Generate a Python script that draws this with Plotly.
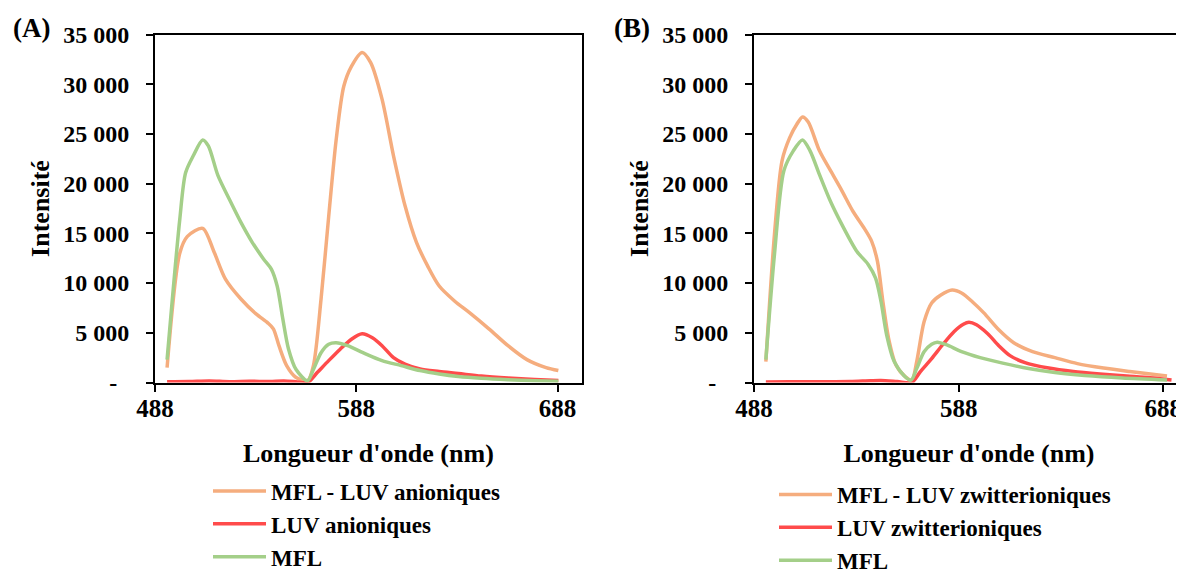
import plotly.graph_objects as go

# ---------------- data ----------------
# Panel A : anionic LUV
wl_a_mfl_luv = [494, 500.3, 504.1, 511.7, 517.4, 523, 530.7, 538.2, 544, 546.8, 549.6, 553.4, 558.1, 563.8,
                566.7, 570.5, 574.3, 578, 581.8, 585.6, 590.9, 595.1, 600.8, 606.5, 612.2, 617.9, 623.5,
                629.2, 636.8, 644.4, 653.9, 663.4, 672.8, 682.3, 688.4]
int_a_mfl_luv = [1500, 13000, 14700, 15500, 13100, 10400, 8400, 6900, 6000, 5400, 3700, 1700, 500, 170,
                 1700, 8400, 16700, 24400, 29800, 31800, 33200, 32200, 28500, 22800, 17800, 14100, 11700,
                 9700, 8200, 7000, 5400, 3700, 2300, 1500, 1200]

wl_a_luv = [494, 505, 515, 525, 535, 545, 552, 558, 563.8, 568.6, 574.3, 580, 585.6, 590.9, 596, 600.8,
            606.5, 612.2, 619.7, 629.2, 638.7, 650.1, 663.4, 676.6, 688.4]
int_a_luv = [80, 100, 150, 80, 120, 100, 150, 80, 0, 1000, 2200, 3350, 4350, 4900, 4500, 3700,
             2500, 1850, 1350, 1100, 900, 650, 450, 300, 200]

wl_a_mfl = [494, 500.3, 503.2, 507, 511.7, 514.5, 519.3, 525, 530.7, 536.3, 542, 545.8, 548.7, 551.5, 554.3,
            558.1, 563.8, 566.7, 570.5, 574.3, 578, 583.7, 591.3, 600.8, 610.3, 619.7, 629.2, 638.7, 650.1,
            663.4, 676.6, 688.4]
int_a_mfl = [2300, 16400, 21100, 22800, 24400, 23800, 20800, 18400, 16100, 14100, 12400, 11400, 9700, 6400, 3400,
             1300, 170, 1300, 3000, 3850, 4000, 3700, 3000, 2200, 1700, 1200, 850, 600, 420,
             280, 180, 130]

# Panel B : zwitterionic LUV
wl_b_mfl_luv = [493.8, 498, 501.7, 505.4, 509, 511.7, 514.5, 520, 525.4, 530.9, 536.4, 541.9, 545.5, 548.3,
                551, 553.8, 557.4, 562, 565.1, 567.5, 571.1, 574.8, 579.3, 584.8, 589.4, 594.8, 600.3, 607.6,
                614.9, 624.1, 635, 646, 658.8, 671.6, 689.8]
int_b_mfl_luv = [2100, 14900, 22300, 24600, 26000, 26700, 26200, 23300, 21300, 19300, 17200, 15500, 14200, 12200,
                 8100, 4400, 1750, 570, 240, 2100, 6100, 8000, 8800, 9300, 9000, 8100, 7000, 5300,
                 4000, 3100, 2500, 1900, 1450, 1100, 650]

wl_b_luv = [493.8, 505, 520, 535, 545, 550, 558, 565.1, 569.3, 574.8, 580.2, 585.7, 590.3, 593, 596.7, 602.2,
            607.6, 613.1, 620.4, 632, 644, 657, 670, 681.5, 692]
int_b_luv = [60, 70, 80, 100, 180, 200, 100, 0, 1100, 2400, 3800, 5100, 5850, 6050, 5800, 4900,
             3700, 2700, 2000, 1450, 1100, 850, 650, 480, 250]

wl_b_mfl = [493.8, 498, 502.6, 507.2, 511.7, 515.4, 520, 525.4, 530.9, 538.2, 543.7, 547.4, 550.1, 552.8,
            556.5, 561.1, 564.7, 567.5, 571.1, 574.8, 577.5, 582, 589.4, 598.5, 609.5, 622.2, 635, 649.6,
            667.9, 689.8]
int_b_mfl = [2300, 12900, 21300, 23300, 24400, 23300, 20900, 18200, 15900, 13200, 11900, 10500, 8100, 4800,
             2100, 740, 240, 1400, 3100, 3850, 4050, 3800, 3100, 2500, 1950, 1400, 1000, 700,
             450, 250]

y_tickvals = [0, 5000, 10000, 15000, 20000, 25000, 30000, 35000]
y_ticktext = ["-\u00a0\u00a0", "5 000", "10 000", "15 000", "20 000", "25 000", "30 000", "35 000"]
x_tickvals = [488, 588, 688]
x_ticktext = ["488", "588", "688"]

names_a = ["MFL - LUV anioniques", "LUV anioniques", "MFL"]
names_b = ["MFL - LUV zwitterioniques", "LUV zwitterioniques", "MFL"]
colors = ["#F5AD7E", "#FF4B4B", "#A4CF89"]

# ---------------- figure ----------------
OFF = 8                      # page body margin of the html page
W, H = 1184 - OFF, 569 - OFF
FONT = "Liberation Serif"

fig = go.Figure()

series_a = [(wl_a_mfl_luv, int_a_mfl_luv), (wl_a_luv, int_a_luv), (wl_a_mfl, int_a_mfl)]
series_b = [(wl_b_mfl_luv, int_b_mfl_luv), (wl_b_luv, int_b_luv), (wl_b_mfl, int_b_mfl)]

for (x, y), name, c in zip(series_a, names_a, colors):
    fig.add_trace(go.Scatter(x=x, y=y, name=name, mode="lines",
                             line=dict(color=c, width=3.5, shape="spline", smoothing=0.8),
                             xaxis="x", yaxis="y", legend="legend"))
for (x, y), name, c in zip(series_b, names_b, colors):
    fig.add_trace(go.Scatter(x=x, y=y, name=name, mode="lines",
                             line=dict(color=c, width=3.5, shape="spline", smoothing=0.8),
                             xaxis="x2", yaxis="y2", legend="legend2"))

def px_x(p):
    return (p - OFF) / W

def px_y(p):
    return 1 - (p - OFF) / H

y_dom = [px_y(382.5), px_y(34.5)]

common_y = dict(range=[0, 35000], tickvals=y_tickvals, ticktext=y_ticktext,
                showgrid=False, zeroline=False, showline=True, linecolor="black", linewidth=2,
                ticks="outside", ticklen=7, tickwidth=2, tickcolor="black",
                tickfont=dict(family=FONT, size=24, color="black", weight="bold"),
                ticklabelstandoff=12, domain=y_dom, fixedrange=True,
                title=dict(text="Intensité", font=dict(family=FONT, size=26, color="black", weight="bold"),
                           standoff=6))
common_x = dict(tickvals=x_tickvals, ticktext=x_ticktext,
                showgrid=False, zeroline=False, showline=True, linecolor="black", linewidth=2,
                ticks="outside", ticklen=7, tickwidth=2, tickcolor="black",
                tickfont=dict(family=FONT, size=25, color="black", weight="bold"),
                ticklabelstandoff=-5, fixedrange=True,
                title=dict(text="Longueur d'onde (nm)", font=dict(family=FONT, size=26, color="black", weight="bold"),
                           standoff=23))

legend_font = dict(family=FONT, size=23, color="black", weight="bold")

fig.update_layout(
    width=W, height=H,
    margin=dict(l=0, r=0, t=0, b=0, autoexpand=False),
    paper_bgcolor="white", plot_bgcolor="white",
    font=dict(family=FONT, color="black"),
    xaxis=dict(common_x, domain=[px_x(155), px_x(581.7)], range=[488, 700], anchor="y", mirror=True),
    yaxis=dict(common_y, anchor="x", mirror=True),
    xaxis2=dict(common_x, domain=[px_x(754), 1.0], range=[488, 698.1], anchor="y2", mirror=True),
    yaxis2=dict(common_y, anchor="x2", mirror=False),
    legend=dict(x=px_x(208), y=px_y(469.5), xanchor="left", yanchor="top",
                bgcolor="rgba(0,0,0,0)", borderwidth=0, itemwidth=53, tracegroupgap=0,
                font=legend_font),
    legend2=dict(x=px_x(774), y=px_y(473), xanchor="left", yanchor="top",
                 bgcolor="rgba(0,0,0,0)", borderwidth=0, itemwidth=53, tracegroupgap=0,
                 font=legend_font),
    showlegend=True,
    annotations=[
        dict(text="(A)", x=px_x(32), y=px_y(28), xref="paper", yref="paper", showarrow=False,
             xanchor="center", yanchor="middle",
             font=dict(family=FONT, size=27, color="black", weight="bold")),
        dict(text="(B)", x=px_x(632), y=px_y(28), xref="paper", yref="paper", showarrow=False,
             xanchor="center", yanchor="middle",
             font=dict(family=FONT, size=27, color="black", weight="bold")),
    ],
)

fig.write_html("out.html", config={"displayModeBar": False})
